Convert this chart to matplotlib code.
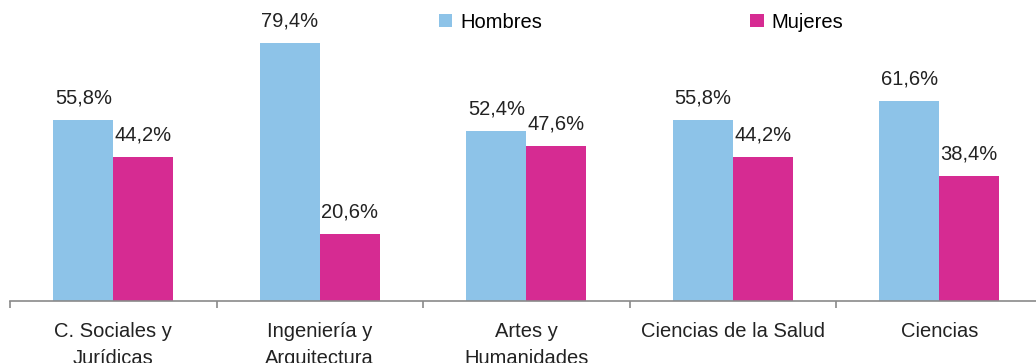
import numpy as np
import matplotlib.pyplot as plt

categorias = ['C. Sociales y\nJurídicas', 'Ingeniería y\nArquitectura', 'Artes y\nHumanidades',
              'Ciencias de la Salud', 'Ciencias']
hombres = [55.8, 79.4, 52.4, 55.8, 61.6]
mujeres = [44.2, 20.6, 47.6, 44.2, 38.4]

plt.rcParams['font.family'] = ['Liberation Sans', 'DejaVu Sans']

fig = plt.figure(figsize=(10.36, 3.63), dpi=100)
ax = fig.add_axes([10 / 1036, 62 / 363, 1032.5 / 1036, 301 / 363])

x = np.arange(len(categorias))
w = 0.29
b1 = ax.bar(x - w / 2, hombres, w, color='#8DC3E8', label='Hombres')
b2 = ax.bar(x + w / 2, mujeres, w, color='#D62B92', label='Mujeres')

for bars, vals in [(b1, hombres), (b2, mujeres)]:
    for r, v in zip(bars, vals):
        ax.annotate(f'{v:.1f}%'.replace('.', ','), (r.get_x() + r.get_width() / 2, v),
                    xytext=(0, 9), textcoords='offset points', ha='center', va='bottom',
                    fontsize=14.5, color='#222222')

ax.set_xlim(-0.5, len(categorias) - 0.5)
ax.set_ylim(0, 92.6)
ax.set_yticks([])
for s in ['top', 'right', 'left']:
    ax.spines[s].set_visible(False)
ax.spines['bottom'].set_color('#8a8a8a')
ax.spines['bottom'].set_linewidth(1.2)

ax.set_xticks(x)
ax.set_xticklabels(categorias, fontsize=14.5, color='#222222', linespacing=1.55)
ax.tick_params(axis='x', which='major', length=0, pad=15)
ax.set_xticks(np.arange(len(categorias)) - 0.5, minor=True)
ax.tick_params(axis='x', which='minor', length=5, color='#8a8a8a', width=1.2)

ax.legend(loc='center left', bbox_to_anchor=(429 / 1032.5, 279 / 301), ncol=2, frameon=False,
          fontsize=14.5, handlelength=0.65, handleheight=0.65, handletextpad=0.4,
          columnspacing=10.35, borderaxespad=0, borderpad=0)

fig.savefig('out.png', dpi=100)
